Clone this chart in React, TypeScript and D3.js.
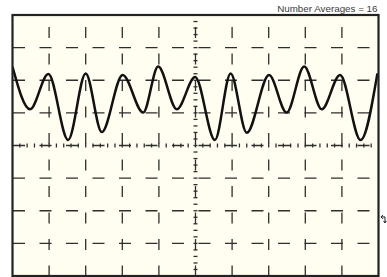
import React from 'react';
import * as d3 from 'd3';

// waveform extrema, in divisions (time) / divisions (volts)
const timeDiv = [0, 0.48, 0.98, 1.52, 2.0, 2.44, 3.01, 3.57, 3.98, 4.49, 4.99, 5.53, 5.96, 6.4, 7.01, 7.49, 7.97, 8.45, 8.95, 9.51, 9.97];
const voltsDiv = [2.41, 1.11, 2.19, 0.17, 2.21, 0.41, 2.16, 1.01, 2.42, 1.11, 2.1, 0.17, 2.21, 0.39, 2.16, 1.01, 2.42, 1.11, 2.16, 0.17, 2.21];

const xDivs = 10;
const yDivs = 8;
const minorPerDiv = 5;
const numberAverages = 16;
const triggerLevel = -2.25;

const W = 387;
const H = 277;
const frame = { left: 12.5, right: 378.5, top: 15, bottom: 276 };

const App = () => {
  const x = d3.scaleLinear().domain([0, xDivs]).range([frame.left, frame.right]);
  const y = d3.scaleLinear().domain([-yDivs / 2, yDivs / 2]).range([frame.bottom, frame.top]);

  const pts = timeDiv.map((t, i) => [t, voltsDiv[i]] as [number, number]);
  const line = d3
    .line<[number, number]>()
    .x(d => x(d[0]))
    .y(d => y(d[1]))
    .curve(d3.curveMonotoneX);

  const vLines = d3.range(1, xDivs);
  const hLines = d3.range(-yDivs / 2 + 1, yDivs / 2);
  const xMinor = d3.range(1, xDivs * minorPerDiv).map(i => i / minorPerDiv);
  const yMinor = d3.range(1, yDivs * minorPerDiv).map(i => i / minorPerDiv - yDivs / 2);

  const gridColor = '#2e2e2e';
  const ty = y(triggerLevel);

  return (
    <svg width={W} height={H} style={{ position: 'absolute', left: 0, top: 0 }}>
      <rect width={W} height={H} fill="#fff" />
      <text
        x={frame.right - 1}
        y={11.5}
        textAnchor="end"
        fontFamily="'Liberation Sans', Arial, sans-serif"
        fontSize={9.8}
        fill="#3a3a3a"
      >
        {`Number Averages = ${numberAverages}`}
      </text>
      <defs>
        <clipPath id="screen">
          <rect x={frame.left} y={frame.top} width={frame.right - frame.left} height={frame.bottom - frame.top} />
        </clipPath>
      </defs>
      <rect
        x={frame.left}
        y={frame.top}
        width={frame.right - frame.left}
        height={frame.bottom - frame.top}
        fill="#fffef0"
      />
      <g stroke={gridColor} strokeWidth={1.3} fill="none">
        {vLines.map(v => (
          <line
            key={'v' + v}
            x1={x(v)}
            x2={x(v)}
            y1={frame.top}
            y2={frame.bottom}
            strokeDasharray="11 15.5"
            strokeDashoffset={14.5}
          />
        ))}
        {hLines.map(h => (
          <line
            key={'h' + h}
            x1={frame.left}
            x2={frame.right}
            y1={y(h)}
            y2={y(h)}
            strokeDasharray="12 14.5"
            strokeDashoffset={-0.5}
          />
        ))}
        {xMinor.map(m => (
          <line key={'xm' + m} x1={x(m)} x2={x(m)} y1={y(0) - 2} y2={y(0) + 2} />
        ))}
        {yMinor.map(m => (
          <line key={'ym' + m} x1={x(xDivs / 2) - 2} x2={x(xDivs / 2) + 2} y1={y(m)} y2={y(m)} />
        ))}
      </g>
      <path d={line(pts) || ''} fill="none" stroke="#111" strokeWidth={2.5} clipPath="url(#screen)" />
      <rect
        x={frame.left}
        y={frame.top}
        width={frame.right - frame.left}
        height={frame.bottom - frame.top}
        fill="none"
        stroke="#222"
        strokeWidth={2.2}
      />
      {/* trigger level marker */}
      <path
        d={`M${frame.right + 2.5},${ty - 2} h4 v6 M${frame.right + 2.5},${ty - 2} l2,-2 M${frame.right + 2.5},${ty - 2} l2,2 M${frame.right + 6.5},${ty + 4} l-1.5,-2 M${frame.right + 6.5},${ty + 4} l1.5,-2`}
        fill="none"
        stroke="#222"
        strokeWidth={1}
      />
    </svg>
  );
};

export default App;
